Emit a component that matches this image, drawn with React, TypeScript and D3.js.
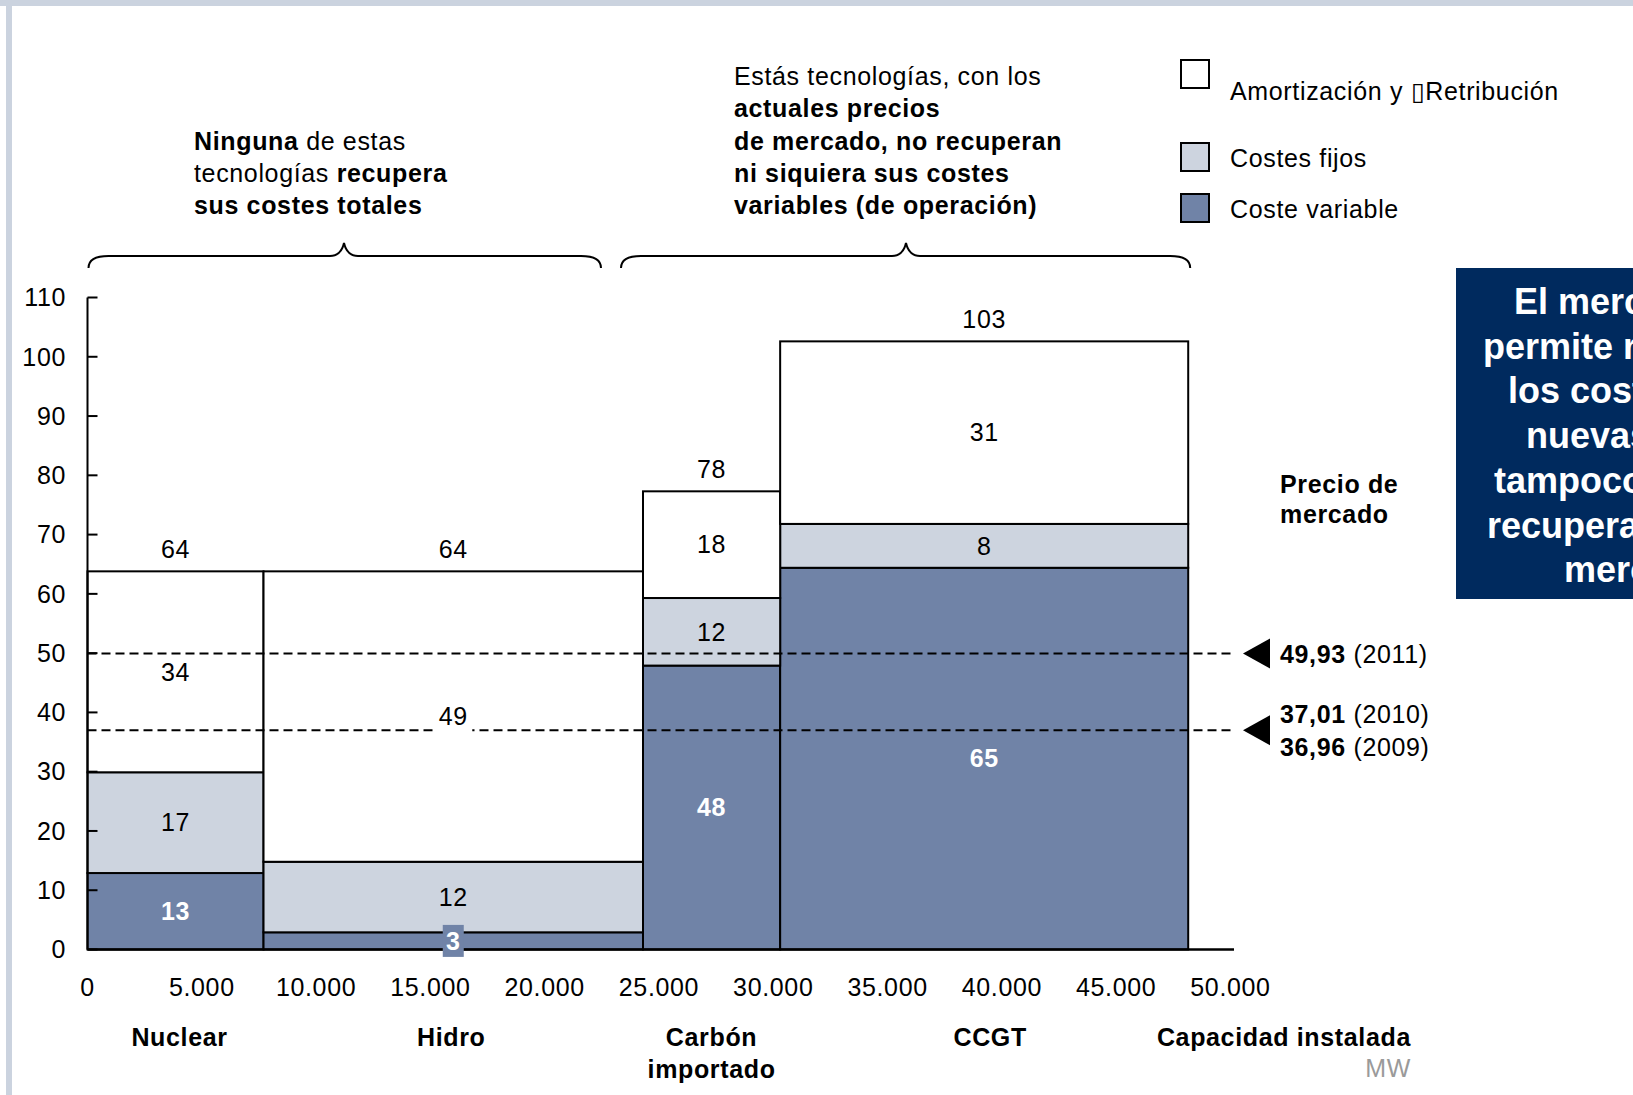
import React from "react";
import * as d3 from "d3";

// ---- data ----
const categories = ["Nuclear", "Hidro", "Carbón importado", "CCGT"];
const categoryLines = [["Nuclear"], ["Hidro"], ["Carbón", "importado"], ["CCGT"]];
const capacityMW = [7700, 16600, 6000, 17850];
const variableCost = [12.9, 2.9, 47.9, 64.4];
const fixedCost = [17.0, 11.9, 11.4, 7.4];
const amortization = [33.9, 49.0, 18.0, 30.8];
const variableLabels = ["13", "3", "48", "65"];
const fixedLabels = ["17", "12", "12", "8"];
const amortLabels = ["34", "49", "18", "31"];
const totalLabels = ["64", "64", "78", "103"];
const yTicks = [0, 10, 20, 30, 40, 50, 60, 70, 80, 90, 100, 110];
const xTicks = [0, 5000, 10000, 15000, 20000, 25000, 30000, 35000, 40000, 45000, 50000];
const marketPrices = [49.93, 37.01, 36.96];
const marketYears = ["2011", "2010", "2009"];
const marketLabels = ["49,93", "37,01", "36,96"];
const seriesKeys = ["variable", "fixed", "amort"];
const legendKeys = ["amort", "fixed", "variable"];
const legendNames = ["Amortización y \u25AFRetribución", "Costes fijos", "Coste variable"];

const COLORS: Record<string, string> = { variable: "#7083a7", fixed: "#cdd4df", amort: "#ffffff" };
const FONT = "'Liberation Sans', Arial, sans-serif";
const FS = 25;
const LS = 0.65;

export default function App() {
  const x = d3.scaleLinear().domain([0, 50000]).range([87.5, 1230.5]);
  const y = d3.scaleLinear().domain([0, 110]).range([949.5, 297.5]);

  const ends = Array.from(d3.cumsum(capacityMW));
  const starts = ends.map((e, i) => e - capacityMW[i]);
  const rows = categories.map((c, i) => ({
    cat: c,
    variable: variableCost[i],
    fixed: fixedCost[i],
    amort: amortization[i],
  }));
  const stacked = d3.stack<any>().keys(seriesKeys)(rows);
  const labelsByKey: Record<string, string[]> = { variable: variableLabels, fixed: fixedLabels, amort: amortLabels };

  const brace = (x1: number, x2: number, peak: number) => {
    const top = 243, mid = 256, bot = 268;
    const p = d3.path();
    p.moveTo(x1, bot);
    p.quadraticCurveTo(x1, mid, x1 + 20, mid);
    p.lineTo(peak - 14, mid);
    p.quadraticCurveTo(peak - 3, mid, peak, top);
    p.quadraticCurveTo(peak + 3, mid, peak + 14, mid);
    p.lineTo(x2 - 20, mid);
    p.quadraticCurveTo(x2, mid, x2, bot);
    return p.toString();
  };

  const priceLineEnd = 1234;
  const catOffsets = [4, -2, 0, 6];
  const navyLines = [
    { t: "El mercado no", x: 1514 },
    { t: "permite recuperar", x: 1483 },
    { t: "los costes de las", x: 1508 },
    { t: "nuevas centrales;", x: 1526 },
    { t: "tampoco se", x: 1494 },
    { t: "recuperan en el", x: 1487 },
    { t: "mercado", x: 1564 },
  ];

  return (
    <div style={{ position: "fixed", left: 0, top: 0, width: 1633, height: 1095, overflow: "hidden", background: "#fff" }}>
      <svg width={1633} height={1095} style={{ display: "block" }} fontFamily={FONT} letterSpacing={LS}>
        {/* frame */}
        <rect x={0} y={0} width={1633} height={6} fill="#cbd3df" />
        <rect x={6} y={0} width={6} height={1095} fill="#cbd3df" />

        {/* annotations */}
        <g fontSize={FS} fill="#000">
          <text x={194} y={149.5}>
            <tspan fontWeight="bold">Ninguna</tspan> de estas
          </text>
          <text x={194} y={181.5}>
            tecnologías <tspan fontWeight="bold">recupera</tspan>
          </text>
          <text x={194} y={213.5} fontWeight="bold">sus costes totales</text>
          <text x={734} y={85}>Estás tecnologías, con los</text>
          <text x={734} y={117} fontWeight="bold">actuales precios</text>
          <text x={734} y={149.5} fontWeight="bold">de mercado, no recuperan</text>
          <text x={734} y={181.5} fontWeight="bold">ni siquiera sus costes</text>
          <text x={734} y={213.5} fontWeight="bold">variables (de operación)</text>
        </g>

        {/* braces */}
        <path d={brace(x(0) + 1, x(ends[1]) - 42, 344)} fill="none" stroke="#000" strokeWidth={2} />
        <path d={brace(x(starts[2]) - 22, x(ends[3]) + 2, 906)} fill="none" stroke="#000" strokeWidth={2} />

        {/* legend */}
        {legendKeys.map((k, i) => {
          const ys = [60, 143, 194][i];
          const ty = [100, 167, 218][i];
          return (
            <g key={k}>
              <rect x={1181} y={ys} width={28} height={28} fill={COLORS[k]} stroke="#000" strokeWidth={2} />
              <text x={1230} y={ty} fontSize={FS}>{legendNames[i]}</text>
            </g>
          );
        })}

        {/* bars */}
        {stacked.map((layer) => (
          <g key={layer.key}>
            {layer.map((d, i) => (
              <rect
                key={i}
                x={x(starts[i])}
                y={y(d[1])}
                width={x(ends[i]) - x(starts[i])}
                height={y(d[0]) - y(d[1])}
                fill={COLORS[layer.key]}
                stroke="#000"
                strokeWidth={2}
              />
            ))}
          </g>
        ))}

        {/* axes */}
        <line x1={x(0)} x2={priceLineEnd} y1={y(0)} y2={y(0)} stroke="#000" strokeWidth={2.5} />
        <line x1={x(0)} x2={x(0)} y1={y(110)} y2={y(0)} stroke="#000" strokeWidth={2} />
        {yTicks.map((t) => (
          <g key={t}>
            <line x1={x(0)} x2={x(0) + 10} y1={y(t)} y2={y(t)} stroke="#000" strokeWidth={2} />
            <text x={66} y={y(t)} dy="0.35em" textAnchor="end" fontSize={FS}>{t}</text>
          </g>
        ))}
        {xTicks.map((t) => (
          <text key={t} x={x(t)} y={996} textAnchor="middle" fontSize={FS}>
            {d3.format(",")(t).replace(/,/g, ".")}
          </text>
        ))}

        {/* market price lines */}
        {[marketPrices[0], marketPrices[1]].map((p, i) => (
          <g key={i}>
            <line x1={x(0)} x2={priceLineEnd} y1={y(p)} y2={y(p)} stroke="#000" strokeWidth={2} strokeDasharray="9 5" />
            <path d={`M1243,${y(p)} L1270,${y(p) - 15} L1270,${y(p) + 15} Z`} fill="#000" />
          </g>
        ))}

        {/* segment labels */}
        {stacked.map((layer) => (
          <g key={layer.key}>
            {layer.map((d, i) => {
              const cx = (x(starts[i]) + x(ends[i])) / 2;
              const cy = (y(d[0]) + y(d[1])) / 2;
              const isVar = layer.key === "variable";
              const lbl = labelsByKey[layer.key][i];
              const small = i === 1;
              return (
                <g key={i}>
                  {isVar && small && (
                    <rect x={cx - 10.5} y={cy - 16} width={21} height={32} fill={COLORS.variable} />
                  )}
                  {layer.key === "amort" && i === 1 && (
                    <rect x={cx - 19} y={cy - 15} width={38} height={32} fill="#fff" />
                  )}
                  <text
                    x={cx}
                    y={cy}
                    dy="0.35em"
                    textAnchor="middle"
                    fontSize={FS}
                    fontWeight={isVar ? "bold" : "normal"}
                    fill={isVar ? "#fff" : "#000"}
                  >
                    {lbl}
                  </text>
                </g>
              );
            })}
          </g>
        ))}

        {/* totals */}
        {totalLabels.map((t, i) => {
          const total = variableCost[i] + fixedCost[i] + amortization[i];
          return (
            <text key={i} x={(x(starts[i]) + x(ends[i])) / 2} y={y(total) - 13} textAnchor="middle" fontSize={FS}>
              {t}
            </text>
          );
        })}

        {/* market price text */}
        <g fontSize={FS}>
          <text x={1280} y={493} fontWeight="bold">Precio de</text>
          <text x={1280} y={523} fontWeight="bold">mercado</text>
          {marketLabels.map((m, i) => (
            <text key={i} x={1280} y={[663, 723, 756][i]}>
              <tspan fontWeight="bold">{m}</tspan> ({marketYears[i]})
            </text>
          ))}
        </g>

        {/* category labels */}
        {categoryLines.map((lines, i) => {
          const cx = (x(starts[i]) + x(ends[i])) / 2 + catOffsets[i];
          return (
            <text key={i} x={cx} y={1046} textAnchor="middle" fontSize={FS} fontWeight="bold">
              {lines.map((l, j) => (
                <tspan key={j} x={cx} dy={j === 0 ? 0 : 32}>
                  {l}
                </tspan>
              ))}
            </text>
          );
        })}
        <text x={1411} y={1046} textAnchor="end" fontSize={FS} fontWeight="bold">Capacidad instalada</text>
        <text x={1411} y={1077} textAnchor="end" fontSize={FS} fill="#9a9a9a">MW</text>

        {/* navy callout */}
        <rect x={1456} y={268} width={200} height={331} fill="#002a5e" />
        <g fontSize={36} fontWeight="bold" fill="#fff" letterSpacing={0}>
          {navyLines.map((l, i) => (
            <text key={i} x={l.x} y={314 + i * 44.7}>{l.t}</text>
          ))}
        </g>
      </svg>
    </div>
  );
}
